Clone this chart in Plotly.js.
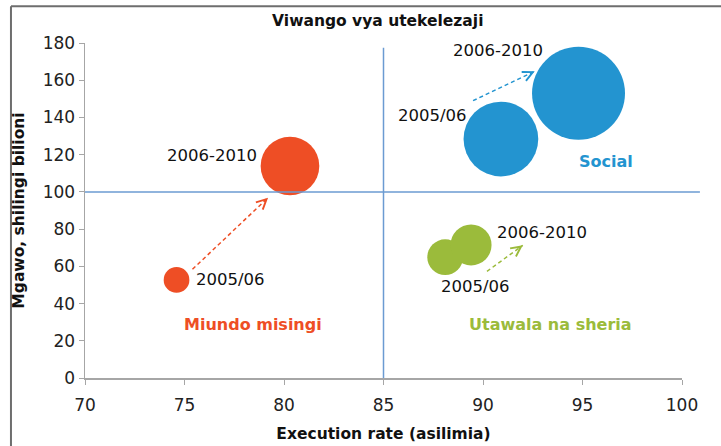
<!DOCTYPE html>
<html>
<head>
<meta charset="utf-8">
<script src="https://cdn.plot.ly/plotly-3.0.1.min.js"></script>
<style>
html,body{margin:0;padding:0;background:#fff;}
#chart{width:721px;height:446px;}
</style>
</head>
<body>
<div id="chart"></div>
<script>
// ---- data ----
const categories = ['Miundo misingi', 'Social', 'Utawala na sheria'];
const periods = ['2005/06', '2006-2010'];
const colors = ['#EE4E25', '#2394D0', '#9BBB3B'];
// execution rate (asilimia)
const rate0506 = [74.6, 90.9, 88.1];
const rate0610 = [80.3, 94.8, 89.4];
// allocation (shilingi bilioni)
const alloc0506 = [52.7, 128.4, 64.9];
const alloc0610 = [113.9, 153.0, 71.5];
// bubble size values
const size0506 = [16.5, 139.5, 32];
const size0610 = [86, 216, 42];
// arrows (from -> to)
const arrowFromX = [75.4, 89.5, 90.2];
const arrowFromY = [58.4, 149.0, 57.3];
const arrowToX = [79.2, 92.6, 92.0];
const arrowToY = [96.9, 164.8, 71.3];
// period label positions
const lbl0506X = [77.3, 87.45, 89.6];
const lbl0506Y = [52.7, 141.3, 49.4];
const lbl0610X = [76.4, 90.75, 92.98];
const lbl0610Y = [119.5, 175.9, 78.3];
// category label positions
const catX = [78.43, 96.18, 93.41];
const catY = [29.0, 116.2, 28.9];
const refX = 85, refY = 100;

const FONT = 'DejaVu Sans, sans-serif';
const traces = [];
const annotations = [];

for (let i = 0; i < categories.length; i++) {
  // dashed arrow shaft
  traces.push({
    type: 'scatter', mode: 'lines',
    x: [arrowFromX[i], arrowToX[i]], y: [arrowFromY[i], arrowToY[i]],
    line: {color: colors[i], width: 1.5, dash: '4px,3px'},
    hoverinfo: 'skip'
  });
  traces.push({
    type: 'scatter', mode: 'markers', name: categories[i],
    x: [rate0506[i], rate0610[i]], y: [alloc0506[i], alloc0610[i]],
    text: periods,
    marker: {
      color: colors[i], size: [size0506[i], size0610[i]],
      sizemode: 'area', sizeref: 0.05, opacity: 1,
      line: {width: 0}
    },
    cliponaxis: false, hoverinfo: 'x+y+text'
  });
  // arrow head: short pixel-offset arrow at the end
  const dxp = (arrowToX[i] - arrowFromX[i]) * 597 / 30;
  const dyp = -(arrowToY[i] - arrowFromY[i]) * 335 / 180;
  const len = Math.sqrt(dxp * dxp + dyp * dyp);
  annotations.push({
    x: arrowToX[i], y: arrowToY[i], xref: 'x', yref: 'y',
    ax: -dxp / len * 6, ay: -dyp / len * 6,
    showarrow: true, arrowhead: 5, arrowsize: 1.3, arrowwidth: 1.5,
    arrowcolor: colors[i], standoff: 0, startstandoff: 0, text: ''
  });
  annotations.push({
    x: lbl0506X[i], y: lbl0506Y[i], xref: 'x', yref: 'y', text: periods[0],
    showarrow: false, xanchor: 'center', yanchor: 'middle',
    font: {family: FONT, size: 16.5, color: '#111'}
  });
  annotations.push({
    x: lbl0610X[i], y: lbl0610Y[i], xref: 'x', yref: 'y', text: periods[1],
    showarrow: false, xanchor: 'center', yanchor: 'middle',
    font: {family: FONT, size: 16.5, color: '#111'}
  });
  annotations.push({
    x: catX[i], y: catY[i], xref: 'x', yref: 'y', text: '<b>' + categories[i] + '</b>',
    showarrow: false, xanchor: 'center', yanchor: 'middle',
    font: {family: FONT, size: 16, color: colors[i]}
  });
}

const layout = {
  width: 721, height: 446,
  margin: {l: 85, r: 39, t: 43, b: 68},
  paper_bgcolor: '#fff', plot_bgcolor: 'rgba(0,0,0,0)',
  showlegend: false,
  font: {family: FONT, color: '#222', size: 15},
  title: {
    text: '<b>Viwango vya utekelezaji</b>',
    font: {family: FONT, size: 15.5, color: '#111'},
    x: 0.524, xanchor: 'center', y: 0.953, yanchor: 'middle'
  },
  xaxis: {
    range: [70, 100], dtick: 5, tick0: 70,
    showgrid: false, zeroline: false,
    showline: true, linecolor: '#A6A6A6', linewidth: 1.5,
    ticks: 'outside', ticklen: 5, tickcolor: '#A6A6A6', tickwidth: 1,
    ticklabelstandoff: 6,
    tickfont: {family: FONT, size: 17, color: '#222'},
    title: {text: '<b>Execution rate (asilimia)</b>', font: {family: FONT, size: 15.5, color: '#111'}, standoff: 14}
  },
  yaxis: {
    range: [0, 180], dtick: 20, tick0: 0,
    showgrid: false, zeroline: false,
    showline: true, linecolor: '#A6A6A6', linewidth: 1.5,
    ticks: 'outside', ticklen: 5, tickcolor: '#A6A6A6', tickwidth: 1,
    tickfont: {family: FONT, size: 17, color: '#222'},
    title: {text: '<b>Mgawo, shilingi bilioni</b>', font: {family: FONT, size: 15.5, color: '#111'}, standoff: 14}
  },
  shapes: [
    {type: 'line', xref: 'x', yref: 'y', x0: refX, x1: refX, y0: 0, y1: 177.5,
     line: {color: '#6B9BD2', width: 1.5}, layer: 'below'},
    {type: 'line', xref: 'paper', yref: 'y', x0: 0, x1: 1.030, y0: refY, y1: refY,
     line: {color: '#6B9BD2', width: 1.5}, layer: 'above'},
    // outer frame (top and left edges)
    {type: 'line', xref: 'paper', yref: 'paper', x0: -0.124, x1: 1.07, y0: 1.11, y1: 1.11,
     line: {color: '#6E6E6E', width: 2}},
    {type: 'line', xref: 'paper', yref: 'paper', x0: -0.124, x1: -0.124, y0: 1.11, y1: -0.25,
     line: {color: '#6E6E6E', width: 2}}
  ],
  annotations: annotations
};

Plotly.newPlot('chart', traces, layout, {displayModeBar: false, staticPlot: true});
</script>
</body>
</html>
